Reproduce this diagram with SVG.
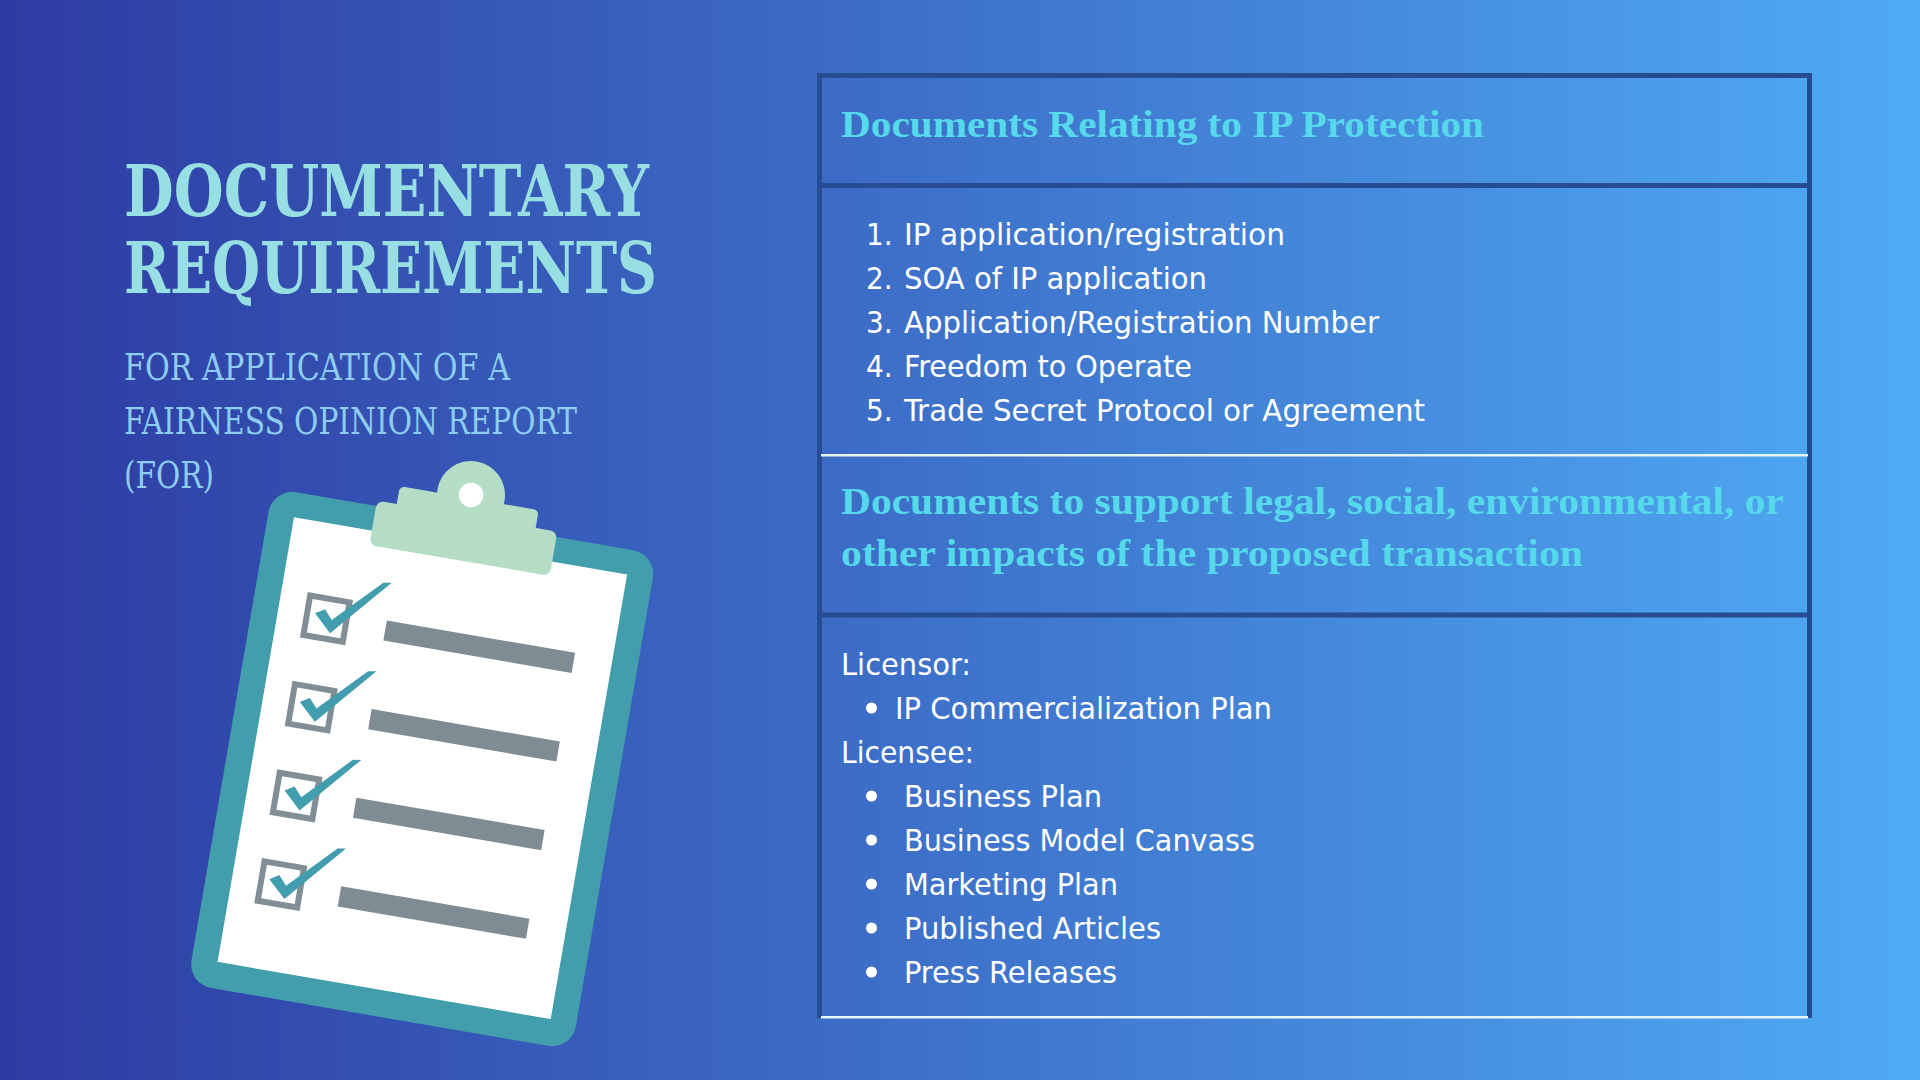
<svg xmlns="http://www.w3.org/2000/svg" xmlns:xlink="http://www.w3.org/1999/xlink" width="1920" height="1080" viewBox="0 0 1920 1080">
<style>
.title{font-family:"DejaVu Serif Condensed","DejaVu Serif",serif;font-weight:700;font-size:71px;fill:#97dfe2}
.sub{font-family:"DejaVu Serif Condensed","DejaVu Serif",serif;font-size:37px;fill:#8ccdf0}
.head{font-family:"Liberation Serif",serif;font-weight:700;font-size:38px;fill:#56d9ea}
.body{font-family:"DejaVu Sans Condensed","DejaVu Sans",sans-serif;font-size:31px;fill:#fff}
.dark{fill:#274c93}.light{fill:#e6f4fb}
</style>
<defs>
<linearGradient id="bg" x1="0" y1="0" x2="1" y2="0"><stop offset="0" stop-color="#2e3ba2"/><stop offset="1" stop-color="#4fabf4"/></linearGradient>
<g id="row">
<rect x="-139.8" y="-151.1" width="40" height="40" fill="none" stroke="#818e96" stroke-width="6"/>
<rect x="-60" y="-139.5" width="191" height="20.4" fill="#808c93"/>
<polygon points="-132,-134.4 -122.8,-140.1 -114.4,-130.7 -69.9,-176.2 -61.6,-177.6 -113.8,-117.3" fill="#429eae"/>
</g>
</defs>
<rect width="1920" height="1080" fill="url(#bg)"/>
<g id="title-block">
<text class="title" x="124" y="216" textLength="525" lengthAdjust="spacingAndGlyphs">DOCUMENTARY</text>
<text class="title" x="124" y="293" textLength="533" lengthAdjust="spacingAndGlyphs">REQUIREMENTS</text>
<text class="sub" x="124" y="380" textLength="386" lengthAdjust="spacingAndGlyphs">FOR APPLICATION OF A</text>
<text class="sub" x="124" y="434" textLength="453" lengthAdjust="spacingAndGlyphs">FAIRNESS OPINION REPORT</text>
<text class="sub" x="124" y="488" textLength="90" lengthAdjust="spacingAndGlyphs">(FOR)</text>
</g>
<g id="clipboard" transform="translate(422.35 768.15) rotate(9.75)">
<rect x="-195" y="-250.6" width="390" height="503" rx="24" fill="#429eac"/>
<rect x="-169" y="-225.6" width="338" height="451.2" fill="#fff"/>
<circle cx="1.7" cy="-277.5" r="34" fill="#b5dcc5"/>
<rect x="-70" y="-274" width="141" height="40" rx="5" fill="#b5dcc5"/>
<rect x="-90" y="-256" width="183" height="45" rx="7" fill="#b5dcc5"/>
<circle cx="1.7" cy="-277.5" r="12.3" fill="#fff"/>
<use xlink:href="#row" href="#row"/>
<use xlink:href="#row" href="#row" y="89.9"/>
<use xlink:href="#row" href="#row" y="179.8"/>
<use xlink:href="#row" href="#row" y="269.7"/>
</g>
<g id="table">
<rect class="dark" x="817" y="73" width="995" height="5"/>
<rect class="dark" x="817" y="73" width="5" height="945"/>
<rect class="dark" x="1807" y="73" width="5" height="945"/>
<rect class="dark" x="821" y="183" width="987" height="5"/>
<rect class="light" x="821" y="454" width="987" height="2.5"/>
<rect class="dark" x="821" y="612.5" width="987" height="5"/>
<rect class="light" x="821" y="1016" width="987" height="2.5"/>
</g>
<g id="ip-protection">
<text class="head" x="841" y="137" textLength="643" lengthAdjust="spacingAndGlyphs">Documents Relating to IP Protection</text>
<text class="body" x="866" y="245">1.</text><text class="body" x="904" y="245" textLength="381" lengthAdjust="spacingAndGlyphs">IP application/registration</text>
<text class="body" x="866" y="289">2.</text><text class="body" x="904" y="289" textLength="303" lengthAdjust="spacingAndGlyphs">SOA of IP application</text>
<text class="body" x="866" y="333">3.</text><text class="body" x="904" y="333" textLength="475" lengthAdjust="spacingAndGlyphs">Application/Registration Number</text>
<text class="body" x="866" y="377">4.</text><text class="body" x="904" y="377" textLength="288" lengthAdjust="spacingAndGlyphs">Freedom to Operate</text>
<text class="body" x="866" y="421">5.</text><text class="body" x="904" y="421" textLength="521" lengthAdjust="spacingAndGlyphs">Trade Secret Protocol or Agreement</text>
</g>
<g id="impacts">
<text class="head" x="841" y="514" textLength="943" lengthAdjust="spacingAndGlyphs">Documents to support legal, social, environmental, or</text>
<text class="head" x="841" y="566" textLength="742" lengthAdjust="spacingAndGlyphs">other impacts of the proposed transaction</text>
</g>
<g id="parties">
<text class="body" x="841" y="675" textLength="130" lengthAdjust="spacingAndGlyphs">Licensor:</text>
<circle cx="871.5" cy="708" r="5.5" fill="#fff"/><text class="body" x="895" y="719" textLength="377" lengthAdjust="spacingAndGlyphs">IP Commercialization Plan</text>
<text class="body" x="841" y="763" textLength="133" lengthAdjust="spacingAndGlyphs">Licensee:</text>
<circle cx="871.5" cy="796" r="5.5" fill="#fff"/><text class="body" x="904" y="807" textLength="198" lengthAdjust="spacingAndGlyphs">Business Plan</text>
<circle cx="871.5" cy="840" r="5.5" fill="#fff"/><text class="body" x="904" y="851" textLength="351" lengthAdjust="spacingAndGlyphs">Business Model Canvass</text>
<circle cx="871.5" cy="884" r="5.5" fill="#fff"/><text class="body" x="904" y="895" textLength="214" lengthAdjust="spacingAndGlyphs">Marketing Plan</text>
<circle cx="871.5" cy="928" r="5.5" fill="#fff"/><text class="body" x="904" y="939" textLength="257" lengthAdjust="spacingAndGlyphs">Published Articles</text>
<circle cx="871.5" cy="972" r="5.5" fill="#fff"/><text class="body" x="904" y="983" textLength="213" lengthAdjust="spacingAndGlyphs">Press Releases</text>
</g>
</svg>
